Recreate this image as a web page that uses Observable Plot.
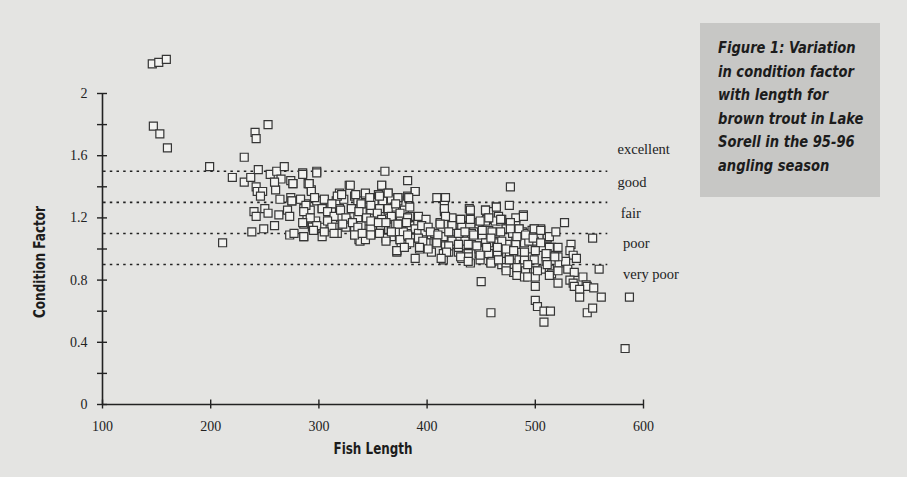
<!DOCTYPE html>
<html>
<head>
<meta charset="utf-8">
<script src="https://cdn.jsdelivr.net/npm/d3@7"></script>
<script src="https://cdn.jsdelivr.net/npm/@observablehq/plot@0.6"></script>
<style>
  html, body { margin: 0; padding: 0; background: #e4e4e2; }
  #wrap { position: relative; width: 907px; height: 477px; overflow: hidden; }
  #caption {
    position: absolute; left: 700px; top: 23px; width: 180px; height: 174px;
    background: #c7c7c5; box-sizing: border-box; padding: 13px 0 0 18px;
    font-family: "DejaVu Sans Condensed", "Liberation Sans", sans-serif;
    font-weight: bold; font-style: italic; font-size: 16px; line-height: 23.5px; color: #1c1c1c;
  }
  #caption span { display: block; white-space: nowrap; transform: scaleX(0.91); transform-origin: left center; }
</style>
</head>
<body>
<div id="wrap">
  <div id="chart"></div>
  <div id="caption"><span>Figure 1: Variation</span><span>in condition factor</span><span>with length for</span><span>brown trout in Lake</span><span>Sorell in the 95-96</span><span>angling season</span></div>
</div>
<script>
// [fish length, condition factor]
const outliers = [
  [146,2.19],[152,2.20],[159,2.22],[147,1.79],[153,1.74],[160,1.65],
  [199,1.53],[211,1.04],[220,1.46],[231,1.59],[231,1.43],[237,1.46],
  [241,1.75],[242,1.71],[253,1.80],[244,1.51],[583,0.36],[587,0.69],
  [459,0.59],[450,0.79],[477,1.40],[527,1.17],[553,1.07]
];
const fish230to300 = [
  [238,1.11],[249,1.13],[259,1.15],[273,1.09],
  [240,1.24],[242,1.21],[250,1.26],[253,1.23],[263,1.22],[271,1.25],[273,1.21],
  [242,1.40],[243,1.37],[248,1.37],[246,1.34],[260,1.38],[264,1.32],[274,1.33],[275,1.31],
  [255,1.48],[261,1.50],[268,1.53],[265,1.45],[259,1.43],[274,1.44],[276,1.42],
  [285,1.49],[298,1.50],[291,1.42],[293,1.38],[290,1.42],
  [283,1.32],[288,1.29],[298,1.31],[286,1.26],[292,1.25],[289,1.20],[297,1.18],
  [286,1.16],[294,1.14],[286,1.08]
];
const fish300to370 = [
  [361,1.50],[328,1.41],[358,1.41],[329,1.41],[319,1.36],
  [305,1.32],[311,1.29],[316,1.31],[321,1.35],[323,1.32],[333,1.34],[336,1.31],[343,1.35],
  [347,1.32],[351,1.30],[355,1.35],[359,1.31],[364,1.36],[367,1.32],
  [303,1.26],[312,1.24],[319,1.26],[330,1.26],[339,1.28],[340,1.24],[348,1.25],[356,1.26],[364,1.25],[370,1.27],
  [308,1.18],[320,1.20],[326,1.18],[336,1.20],[345,1.18],[354,1.19],[362,1.18],[368,1.20],
  [303,1.14],[314,1.14],[325,1.14],[333,1.13],[339,1.15],[348,1.13],[357,1.14],[367,1.14],
  [303,1.08],[333,1.09],[337,1.06],[348,1.09],[367,1.08],[317,1.10],[338,1.05],[343,1.06],
  [357,1.10],[362,1.07]
];
const fish370to450 = [
  [373,1.33],[375,1.15],[382,1.44],[389,1.37],[382,1.34],[373,1.31],[409,1.33],[417,1.33],
  [416,1.28],[416,1.24],[379,1.25],[439,1.26],
  [384,1.21],[412,1.17],[423,1.15],[431,1.19],[440,1.20],[448,1.17],[423,1.20],[432,1.15],[448,1.13],
  [371,1.16],[379,1.16],[384,1.15],[371,1.11],[378,1.11],[389,1.13],[392,1.10],[398,1.11],
  [404,1.08],[415,1.08],[423,1.11],[429,1.08],[437,1.10],[443,1.11],[407,1.10],[429,1.10],[441,1.10],
  [375,1.06],[385,1.07],[393,1.04],[401,1.04],[409,1.04],[417,1.02],[426,1.03],[434,1.02],
  [441,1.03],[449,1.02],[399,1.04],[381,1.03],[376,1.01],[423,1.05],[435,1.05],
  [372,0.98],[372,0.99],[393,1.00],[404,0.98],[415,0.97],[429,0.98],[438,0.96],[448,0.97],
  [448,1.00],[438,0.97],[429,1.01],[420,0.98],
  [389,0.94],[415,0.93],[432,0.94],[440,0.91],[449,0.93],[438,0.95]
];
const fish450to600 = [
  [454,1.25],[464,1.27],[476,1.28],[489,1.22],[457,1.24],[466,1.21],[482,1.20],
  [455,1.19],[463,1.18],[454,1.18],[468,1.18],[469,1.19],[477,1.17],[482,1.15],
  [451,1.09],[457,1.12],[463,1.10],[460,1.11],[473,1.13],[485,1.13],[488,1.11],[491,1.10],
  [497,1.12],[499,1.13],[505,1.12],[505,1.13],[479,1.10],[511,1.07],[511,1.08],
  [457,1.04],[465,1.02],[466,1.04],[474,1.03],[482,1.05],[490,1.04],[499,1.05],[454,1.04],
  [469,1.05],[482,1.03],[494,1.05],[505,1.01],[515,1.01],[507,1.01],[521,1.01],[513,1.01],
  [459,0.96],[466,0.98],[457,0.97],[466,0.99],[465,0.98],[476,0.96],[480,0.96],[494,0.95],
  [511,0.97],[510,0.95],[533,1.03],[532,0.99],[535,0.96],
  [459,0.91],[460,0.92],[469,0.90],[473,0.92],[476,0.93],[485,0.93],[489,0.90],[490,0.93],
  [499,0.93],[510,0.92],[522,0.91],[528,0.92],[521,0.95],[538,0.94],
  [473,0.88],[480,0.85],[483,0.86],[486,0.84],[491,0.86],[500,0.86],[507,0.87],[513,0.87],
  [515,0.84],[521,0.86],[530,0.87],[536,0.85],[559,0.87],[483,0.83],[490,0.82],[493,0.82],
  [500,0.82],[513,0.83],[544,0.82],[521,0.78],[532,0.80],[535,0.78],
  [500,0.76],[536,0.76],[547,0.77],[548,0.76],[554,0.75],[541,0.74],[541,0.69],[561,0.69],
  [500,0.67],[502,0.63],[508,0.60],[514,0.60],[508,0.53],[548,0.59],[553,0.62]
];
const denseCore = [
  [285,1.48],[298,1.49],[276,1.42],[291,1.42],[293,1.37],[358,1.41],[389,1.37],[383,1.33],
  [275,1.31],[283,1.32],[288,1.28],[296,1.33],[305,1.32],[317,1.34],[321,1.35],[334,1.35],
  [343,1.36],[347,1.33],[356,1.34],[364,1.36],[373,1.33],[339,1.29],[330,1.26],[312,1.29],
  [303,1.26],[348,1.28],[364,1.26],[371,1.29],[384,1.27],[286,1.24],[292,1.20],[308,1.24],
  [314,1.21],[320,1.25],[325,1.20],[337,1.24],[344,1.20],[354,1.23],[358,1.19],[367,1.21],
  [375,1.23],[382,1.20],[392,1.21],[399,1.19],[285,1.17],[298,1.15],[308,1.18],[312,1.14],
  [322,1.16],[331,1.17],[336,1.14],[348,1.18],[355,1.17],[362,1.17],[373,1.16],[381,1.17],
  [395,1.15],[401,1.14],[277,1.10],[286,1.08],[295,1.12],[305,1.11],[314,1.10],[333,1.09],
  [340,1.10],[348,1.09],[356,1.10],[362,1.05],[367,1.11],[375,1.06],[382,1.09],[384,1.04],
  [392,1.07],[396,1.05],[372,0.99],[379,1.01],[393,1.01],[401,1.00],
  [416,1.26],[440,1.25],[454,1.25],[464,1.27],[489,1.21],[417,1.21],[412,1.16],[423,1.15],
  [431,1.19],[440,1.19],[449,1.18],[457,1.20],[468,1.19],[477,1.17],[485,1.13],[499,1.13],
  [505,1.12],[513,1.08],[519,1.11],[403,1.11],[410,1.09],[420,1.11],[429,1.10],[435,1.11],
  [443,1.09],[451,1.12],[459,1.07],[468,1.11],[477,1.13],[483,1.08],[491,1.09],[498,1.07],
  [505,1.04],[409,1.04],[420,1.02],[429,1.03],[438,1.03],[446,1.02],[455,1.01],[465,1.01],
  [473,1.00],[480,0.99],[490,0.98],[500,0.99],[510,0.97],[518,0.95],[418,0.98],[431,0.95],
  [438,0.92],[449,0.96],[459,0.91],[466,0.93],[476,0.93],[483,0.88],[493,0.90],[502,0.86],
  [511,0.90],[413,0.94],[473,0.86]
];
const bandCutoffs = [1.5, 1.3, 1.1, 0.9];
const bandNames = ["excellent", "good", "fair", "poor", "very poor"];
const bandLabelX = [576, 576, 579, 581, 581];
const bandLabelY = [1.64, 1.43, 1.23, 1.035, 0.84];
const yTicks = [0, 0.2, 0.4, 0.6, 0.8, 1.0, 1.2, 1.4, 1.6, 1.8, 2.0];
const yLabels = [0, 0.4, 0.8, 1.2, 1.6, 2];
const xTicks = [100, 200, 300, 400, 500, 600];

const points = [...outliers, ...fish230to300, ...fish300to370, ...fish370to450, ...fish450to600, ...denseCore]
  .map(([length, cf]) => ({length, cf}));
const bands = bandNames.map((name, i) => ({name, x: bandLabelX[i], y: bandLabelY[i]}));
const sansBold = "'DejaVu Sans Condensed', 'Liberation Sans', sans-serif";

const chart = Plot.plot({
  width: 907, height: 477,
  marginLeft: 102, marginRight: 264, marginTop: 93, marginBottom: 73,
  x: {domain: [100, 600]},
  y: {domain: [0, 2]},
  style: {background: "transparent", fontFamily: "'Liberation Serif', serif", fontSize: "14px", color: "#222", overflow: "visible"},
  marks: [
    Plot.ruleY(bandCutoffs, {x1: 101, x2: 567, stroke: "#222", strokeWidth: 1.6, strokeDasharray: "2.5,4.2"}),
    Plot.ruleX([100], {y1: 0, y2: 2, stroke: "#222", strokeWidth: 1.6}),
    Plot.ruleY([0], {x1: 100, x2: 600, stroke: "#222", strokeWidth: 1.6}),
    Plot.axisY({ticks: yTicks, tickSize: 10, dx: 5, tickFormat: () => "", label: null, stroke: "#222", strokeWidth: 1.4}),
    Plot.axisY({ticks: yLabels, tickSize: 0, tickPadding: 15, tickFormat: d => String(d), label: null}),
    Plot.axisX({ticks: xTicks, tickSize: 9, dy: -4.5, tickFormat: () => "", label: null, stroke: "#222", strokeWidth: 1.4}),
    Plot.axisX({ticks: xTicks, tickSize: 0, tickPadding: 17, tickFormat: d => String(d), label: null}),
    Plot.text(bands, {x: "x", y: "y", text: "name", textAnchor: "start", fontSize: 14.5, fill: "#222"}),
    Plot.text(["Condition Factor"], {frameAnchor: "left", textAnchor: "middle", dx: -62, dy: 13, rotate: -90, fontFamily: sansBold, fontWeight: "bold", fontSize: 15.5, fill: "#1c1c1c", className: "ytitle"}),
    Plot.text(["Fish Length"], {frameAnchor: "bottom", textAnchor: "middle", dy: 49, fontFamily: sansBold, fontWeight: "bold", fontSize: 15.5, fill: "#1c1c1c", className: "xtitle"}),
    Plot.dot(points, {x: "length", y: "cf", symbol: "square", r: 4.5, stroke: "#353535", fill: "#f3f3f1", strokeWidth: 1.2})
  ]
});
// narrow the bold titles to match the condensed face of the original
chart.querySelectorAll("text").forEach(t => {
  if (t.textContent === "Condition Factor") { t.setAttribute("textLength", 112); t.setAttribute("lengthAdjust", "spacingAndGlyphs"); }
  if (t.textContent === "Fish Length") { t.setAttribute("textLength", 79); t.setAttribute("lengthAdjust", "spacingAndGlyphs"); }
});
document.getElementById("chart").appendChild(chart);
</script>
</body>
</html>
